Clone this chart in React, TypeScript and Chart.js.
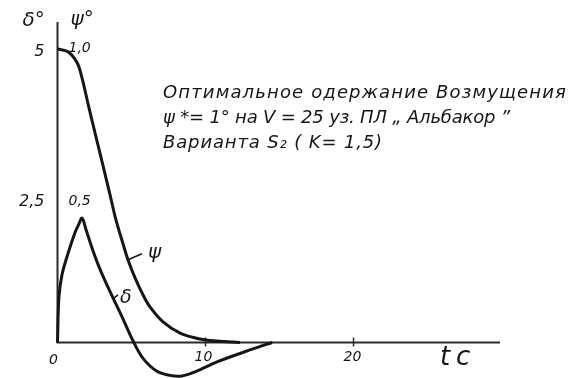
import React, { useEffect, useRef } from "react";
import { Chart, registerables } from "chart.js";

Chart.register(...registerables);

// Time, seconds
const deltaTime = [0, 0.1, 0.3, 0.64, 1.18, 1.45, 1.66, 1.93, 2.2, 2.53, 2.87, 3.34, 3.75, 4.43, 5.1, 5.78, 6.72, 7.6, 8.4, 9.3, 10.78, 13.2, 14.5];
// Rudder deflection δ, degrees
const deltaDeg = [0, 0.78, 1.15, 1.46, 1.87, 2.02, 2.12, 1.92, 1.71, 1.47, 1.25, 0.98, 0.76, 0.4, 0.03, -0.27, -0.49, -0.56, -0.57, -0.5, -0.33, -0.11, 0];

const psiTime = [0, 0.71, 1.32, 1.66, 2.06, 2.53, 3.01, 3.55, 3.95, 4.43, 4.76, 5.24, 5.78, 6.25, 7.13, 8.28, 9.63, 10.78, 12.33];
// Heel disturbance ψ, degrees
const psiDeg = [1.0, 0.991, 0.954, 0.901, 0.814, 0.715, 0.616, 0.503, 0.418, 0.336, 0.282, 0.22, 0.162, 0.121, 0.07, 0.032, 0.012, 0.005, 0];

const timeTicks = [0, 10, 20];
const timeTickLabels = ["0", "10", "20"];
const deltaTicks = [5, 2.5];
const deltaTickLabels = ["5", "2,5"];
const psiTicks = [1.0, 0.5];
const psiTickLabels = ["1,0", "0,5"];

const titleLines = [
  "Оптимальное одержание Возмущения",
  "ψ *= 1° на V = 25 уз. ПЛ „ Альбакор ”",
  "Варианта S₂ ( K= 1,5)",
];

const INK = "#161616";
const HAND = '"DejaVu Sans"';

function fitText(ctx: CanvasRenderingContext2D, text: string, x: number, y: number, width: number) {
  (ctx as any).letterSpacing = "0px";
  const w = ctx.measureText(text).width;
  const n = Array.from(text).length;
  const ls = (width - w) / Math.max(1, n);
  (ctx as any).letterSpacing = ls + "px";
  ctx.fillText(text, x, y);
  (ctx as any).letterSpacing = "0px";
}

const sketchAxes = {
  id: "sketchAxes",
  beforeDatasetsDraw(chart: any) {
    const { ctx, scales } = chart;
    const x = scales.x;
    const y = scales.y;
    const x0 = x.getPixelForValue(0);
    const y0 = y.getPixelForValue(0);
    ctx.save();
    ctx.strokeStyle = "#2a2a2a";
    ctx.lineWidth = 2;
    ctx.beginPath();
    ctx.moveTo(x0, y.getPixelForValue(5.46));
    ctx.lineTo(x0, y0);
    ctx.lineTo(x.getPixelForValue(29.9), y0);
    ctx.stroke();
    ctx.lineWidth = 1.5;
    timeTicks.slice(1).forEach((t) => {
      const px = x.getPixelForValue(t);
      ctx.beginPath();
      ctx.moveTo(px, y0 - 5);
      ctx.lineTo(px, y0 + 4);
      ctx.stroke();
    });
    ctx.restore();
  },
  afterDatasetsDraw(chart: any) {
    const { ctx, scales } = chart;
    const x = scales.x;
    const y = scales.y;
    const y2 = scales.y2;
    const x0 = x.getPixelForValue(0);
    const y0 = y.getPixelForValue(0);
    ctx.save();
    ctx.fillStyle = INK;
    ctx.strokeStyle = INK;
    ctx.textBaseline = "alphabetic";

    // axis names
    ctx.textAlign = "left";
    ctx.font = `italic 20px ${HAND}`;
    ctx.fillText("δ°", x0 - 35, 26);
    ctx.fillText("ψ°", x0 + 13, 25);

    // left (δ) ticks
    ctx.textAlign = "right";
    ctx.font = `italic 16px ${HAND}`;
    deltaTicks.forEach((v, i) => {
      const py = y.getPixelForValue(v);
      ctx.fillText(deltaTickLabels[i], x0 - 13, py + (i === 0 ? 7 : 10));
    });
    // right (ψ) ticks
    ctx.textAlign = "left";
    ctx.font = `italic 14px ${HAND}`;
    psiTicks.forEach((v, i) => {
      const py = y2.getPixelForValue(v);
      ctx.fillText(psiTickLabels[i], x0 + 11, py + (i === 0 ? 3 : 9));
    });

    // time ticks
    ctx.textAlign = "center";
    ctx.font = `italic 14px ${HAND}`;
    timeTicks.forEach((t, i) => {
      const px = x.getPixelForValue(t);
      ctx.fillText(timeTickLabels[i], px + (i === 0 ? -4 : i === 1 ? -2 : -1), y0 + (i === 0 ? 22 : 19));
    });
    ctx.textAlign = "left";
    ctx.font = `italic 26px ${HAND}`;
    fitText(ctx, "tc", 440, 365, 36);

    // curve labels with leaders
    ctx.lineWidth = 1.5;
    const psx = x.getPixelForValue(4.76);
    const psy = y2.getPixelForValue(0.282);
    ctx.beginPath();
    ctx.moveTo(psx, psy);
    ctx.lineTo(psx + 14, psy - 6);
    ctx.stroke();
    ctx.font = `italic 20px ${HAND}`;
    ctx.fillText("ψ", psx + 20, psy - 2);

    const dsx = x.getPixelForValue(3.75);
    const dsy = y.getPixelForValue(0.76);
    ctx.beginPath();
    ctx.moveTo(dsx, dsy + 1);
    ctx.lineTo(dsx + 5, dsy - 3);
    ctx.stroke();
    ctx.font = `italic 19px ${HAND}`;
    ctx.fillText("δ", dsx + 7, dsy + 5);

    // title block
    ctx.font = `italic 18px ${HAND}`;
    fitText(ctx, titleLines[0], 163, 98, 404);
    fitText(ctx, titleLines[1], 163, 123, 347);
    fitText(ctx, titleLines[2], 163, 148, 220);
    ctx.restore();
  },
};

export default function App() {
  const ref = useRef<HTMLCanvasElement | null>(null);

  useEffect(() => {
    if (!ref.current) return;
    const chart = new Chart(ref.current, {
      type: "line",
      data: {
        datasets: [
          {
            label: "δ",
            data: deltaTime.map((t, i) => ({ x: t, y: deltaDeg[i] })),
            yAxisID: "y",
            borderColor: INK,
            borderWidth: 3,
            pointRadius: 0,
            tension: 0.35,
            clip: false as any,
          },
          {
            label: "ψ",
            data: psiTime.map((t, i) => ({ x: t, y: psiDeg[i] })),
            yAxisID: "y2",
            borderColor: INK,
            borderWidth: 3,
            pointRadius: 0,
            tension: 0.35,
            clip: false as any,
          },
        ],
      },
      options: {
        animation: false,
        responsive: false,
        devicePixelRatio: 1,
        layout: { padding: { left: 57.5, right: 0, top: 0, bottom: 0 } },
        plugins: { legend: { display: false }, tooltip: { enabled: false } },
        events: [],
        scales: {
          x: { type: "linear", min: 0, max: 35.1, display: false },
          y: { type: "linear", min: -0.605, max: 5.835, display: false },
          y2: { type: "linear", min: -0.121, max: 1.167, display: false },
        },
      },
      plugins: [sketchAxes],
    });
    return () => chart.destroy();
  }, []);

  return (
    <div style={{ position: "fixed", left: 0, top: 0, width: 577, height: 378, background: "#fff" }}>
      <canvas ref={ref} width={577} height={378} />
    </div>
  );
}
